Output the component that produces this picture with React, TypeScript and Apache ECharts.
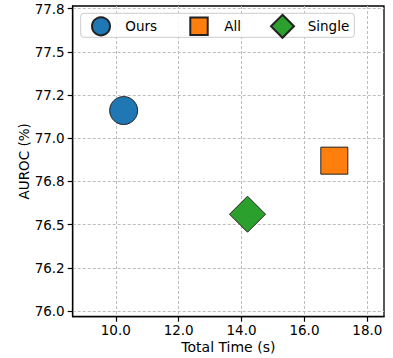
import React, { useEffect, useRef } from "react";
import * as echarts from "echarts";

const methods = ["Ours", "All", "Single"];
const totalTime = [10.25, 16.95, 14.19];
const auroc = [77.16, 76.87, 76.56];
const xTicks = [10, 12, 14, 16, 18];
const yTicks = [76.0, 76.25, 76.5, 76.75, 77.0, 77.25, 77.5, 77.75];
const yTickLabels = ["76.0", "76.2", "76.5", "76.8", "77.0", "77.2", "77.5", "77.8"];
const colors = ["#1f77b4", "#ff7f0e", "#2ca02c"];
const symbols = ["circle", "rect", "diamond"];
const symbolSizes = [28, 27, 36];

const FONT = "DejaVu Sans";
const FS = 13.5;

export default function App() {
  const ref = useRef<HTMLDivElement>(null);
  useEffect(() => {
    if (!ref.current) return;
    const chart = echarts.init(ref.current, null, { renderer: "svg" });
    const legendSpec = [
      { left: 91, top: 16.3, w: 18, h: 18, pad: 10.3 },
      { left: 189.3, top: 16.5, w: 17.4, h: 17.4, pad: 11.6 },
      { left: 270, top: 13.8, w: 23, h: 23, pad: 8.7 },
    ];
    const option: any = {
      animation: false,
      grid: {
        left: 72.7,
        right: 9,
        top: 6,
        bottom: 41.3,
        show: true,
        borderColor: "#000",
        borderWidth: 1.3,
        backgroundColor: "transparent",
        outerBoundsMode: "none",
      },
      xAxis: {
        type: "value",
        min: 8.63,
        max: 18.53,
        name: "Total Time (s)",
        nameLocation: "middle",
        nameGap: 23,
        nameMoveOverlap: false,
        nameTextStyle: { fontFamily: FONT, fontSize: 14, color: "#000" },
        axisLine: { show: true, lineStyle: { color: "#000", width: 1.3 } },
        axisTick: { show: true, length: 5, customValues: xTicks, lineStyle: { color: "#000", width: 1.2 } },
        axisLabel: {
          customValues: xTicks,
          margin: 6,
          fontFamily: FONT,
          fontSize: FS,
          color: "#000",
          formatter: (v: number) => v.toFixed(1),
        },
        splitLine: { show: true, lineStyle: { color: "#bdbdbd", type: [3, 2], width: 1 } },
      },
      yAxis: {
        type: "value",
        min: 75.967,
        max: 77.765,
        name: "AUROC (%)",
        nameLocation: "middle",
        nameGap: 42,
        nameMoveOverlap: false,
        nameTextStyle: { fontFamily: FONT, fontSize: 13.5, color: "#000" },
        axisLine: { show: true, lineStyle: { color: "#000", width: 1.3 } },
        axisTick: { show: true, length: 5, customValues: yTicks, lineStyle: { color: "#000", width: 1.2 } },
        axisLabel: {
          customValues: yTicks,
          margin: 8,
          fontFamily: FONT,
          fontSize: FS,
          color: "#000",
          formatter: (v: number) => {
            const i = yTicks.findIndex((t) => Math.abs(t - v) < 1e-6);
            return i >= 0 ? yTickLabels[i] : "";
          },
        },
        splitLine: { show: true, lineStyle: { color: "#bdbdbd", type: [3, 2], width: 1 } },
      },
      legend: methods.map((m, i) => ({
        data: [m],
        left: legendSpec[i].left,
        top: legendSpec[i].top,
        itemWidth: legendSpec[i].w,
        itemHeight: legendSpec[i].h,
        padding: 0,
        icon: symbols[i],
        z: 5,
        textStyle: {
          fontFamily: FONT,
          fontSize: FS,
          color: "#000",
          padding: [0, 0, 0, legendSpec[i].pad],
        },
      })),
      graphic: [
        {
          type: "rect",
          z: 3,
          shape: { x: 80.7, y: 13.3, width: 273.6, height: 24, r: 3 },
          style: { fill: "rgba(255,255,255,0.85)", stroke: "#cccccc", lineWidth: 1 },
        },
      ],
      series: methods.map((m, i) => ({
        name: m,
        type: "scatter",
        symbol: symbols[i],
        symbolSize: symbolSizes[i],
        data: [[totalTime[i], auroc[i]]],
        itemStyle: { color: colors[i], borderColor: "#222", borderWidth: 1, opacity: 1 },
        z: 2,
      })),
    };
    chart.setOption(option);
    return () => chart.dispose();
  }, []);
  return (
    <div
      ref={ref}
      style={{ position: "fixed", left: 0, top: 0, width: 393, height: 358, background: "#fff" }}
    />
  );
}
